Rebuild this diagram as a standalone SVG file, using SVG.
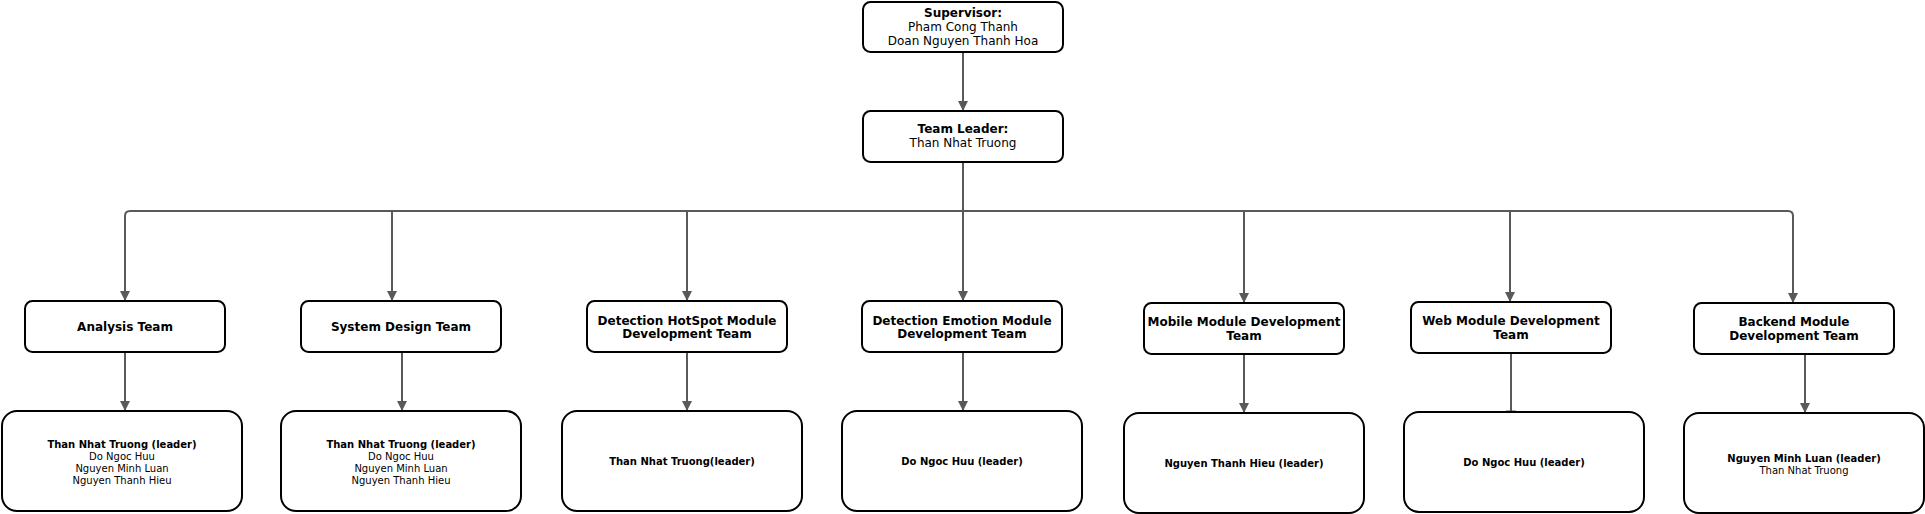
<svg xmlns="http://www.w3.org/2000/svg" width="1925" height="514" viewBox="0 0 1925 514">
<defs>
<marker id="arr" markerUnits="userSpaceOnUse" markerWidth="10" markerHeight="10" refX="10" refY="5" orient="auto">
<path d="M0,0 L10,5 L0,10 z" fill="#595959"/>
</marker>
<style>
.box{fill:#fff;stroke:#000;stroke-width:2}
.e{fill:none;stroke:#595959;stroke-width:2;marker-end:url(#arr)}
.t{font-family:"DejaVu Sans",Verdana,sans-serif;text-anchor:middle;fill:#000}
.h{font-size:12px}
.hb{font-size:12px;font-weight:bold}
.m{font-size:10px}
.mb{font-size:10px;font-weight:bold}
</style>
</defs>
<rect width="1925" height="514" fill="#fff"/>
<g id="connectors">
<path class="e" d="M963 52 V111"/>
<path class="e" d="M963 162 V211 H130 Q125 211 125 216 V301"/>
<path class="e" d="M963 162 V211 H392 V301"/>
<path class="e" d="M963 162 V211 H687 V301"/>
<path class="e" d="M963 162 V301"/>
<path class="e" d="M963 162 V211 H1244 V303"/>
<path class="e" d="M963 162 V211 H1510 V302"/>
<path class="e" d="M963 162 V211 H1788 Q1793 211 1793 216 V303"/>
<path class="e" d="M125 352 V411"/>
<path class="e" d="M402 352 V411"/>
<path class="e" d="M687 352 V411"/>
<path class="e" d="M963 352 V411"/>
<path class="e" d="M1244 354 V413"/>
<path fill="none" stroke="#595959" stroke-width="2" d="M1511 353 V412 M1506 411.5 H1516"/>
<path class="e" d="M1805 354 V413"/>
</g>
<g id="supervisor">
<rect class="box" x="863" y="2" width="200" height="50" rx="7.5"/>
<text class="t hb" x="963" y="17">Supervisor:</text>
<text class="t h" x="963" y="31">Pham Cong Thanh</text>
<text class="t h" x="963" y="45">Doan Nguyen Thanh Hoa</text>
</g>
<g id="team-leader">
<rect class="box" x="863" y="111" width="200" height="51" rx="7.5"/>
<text class="t hb" x="963" y="132.5">Team Leader:</text>
<text class="t h" x="963" y="147">Than Nhat Truong</text>
</g>
<g id="analysis-team">
<rect class="box" x="25" y="301" width="200" height="51" rx="7.5"/>
<text class="t hb" x="125" y="331">Analysis Team</text>
</g>
<g id="system-design-team">
<rect class="box" x="301" y="301" width="200" height="51" rx="7.5"/>
<text class="t hb" x="401" y="331">System Design Team</text>
</g>
<g id="hotspot-team">
<rect class="box" x="587" y="301" width="200" height="51" rx="7.5"/>
<text class="t hb" x="687" y="324.5">Detection HotSpot Module</text>
<text class="t hb" x="687" y="338">Development Team</text>
</g>
<g id="emotion-team">
<rect class="box" x="862" y="301" width="200" height="51" rx="7.5"/>
<text class="t hb" x="962" y="324.5">Detection Emotion Module</text>
<text class="t hb" x="962" y="338">Development Team</text>
</g>
<g id="mobile-team">
<rect class="box" x="1144" y="303" width="200" height="51" rx="7.5"/>
<text class="t hb" x="1244" y="326">Mobile Module Development</text>
<text class="t hb" x="1244" y="340">Team</text>
</g>
<g id="web-team">
<rect class="box" x="1411" y="302" width="200" height="51" rx="7.5"/>
<text class="t hb" x="1511" y="325">Web Module Development</text>
<text class="t hb" x="1511" y="339">Team</text>
</g>
<g id="backend-team">
<rect class="box" x="1694" y="303" width="200" height="51" rx="7.5"/>
<text class="t hb" x="1794" y="325.5">Backend Module</text>
<text class="t hb" x="1794" y="339.5">Development Team</text>
</g>
<g id="analysis-members">
<rect class="box" x="2" y="411" width="240" height="100" rx="15"/>
<text class="t mb" x="122" y="448">Than Nhat Truong (leader)</text>
<text class="t m" x="122" y="460">Do Ngoc Huu</text>
<text class="t m" x="122" y="472">Nguyen Minh Luan</text>
<text class="t m" x="122" y="484">Nguyen Thanh Hieu</text>
</g>
<g id="system-design-members">
<rect class="box" x="281" y="411" width="240" height="100" rx="15"/>
<text class="t mb" x="401" y="448">Than Nhat Truong (leader)</text>
<text class="t m" x="401" y="460">Do Ngoc Huu</text>
<text class="t m" x="401" y="472">Nguyen Minh Luan</text>
<text class="t m" x="401" y="484">Nguyen Thanh Hieu</text>
</g>
<g id="hotspot-members">
<rect class="box" x="562" y="411" width="240" height="100" rx="15"/>
<text class="t mb" x="682" y="465">Than Nhat Truong(leader)</text>
</g>
<g id="emotion-members">
<rect class="box" x="842" y="411" width="240" height="100" rx="15"/>
<text class="t mb" x="962" y="465">Do Ngoc Huu (leader)</text>
</g>
<g id="mobile-members">
<rect class="box" x="1124" y="413" width="240" height="100" rx="15"/>
<text class="t mb" x="1244" y="466.5">Nguyen Thanh Hieu (leader)</text>
</g>
<g id="web-members">
<rect class="box" x="1404" y="412" width="240" height="100" rx="15"/>
<text class="t mb" x="1524" y="465.5">Do Ngoc Huu (leader)</text>
</g>
<g id="backend-members">
<rect class="box" x="1684" y="413" width="240" height="100" rx="15"/>
<text class="t mb" x="1804" y="461.5">Nguyen Minh Luan (leader)</text>
<text class="t m" x="1804" y="474">Than Nhat Truong</text>
</g>
</svg>
